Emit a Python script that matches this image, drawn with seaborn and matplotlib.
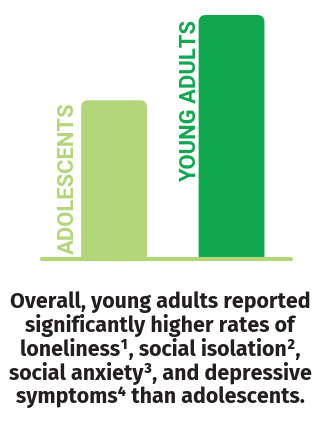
import matplotlib
matplotlib.use("Agg")
import matplotlib.pyplot as plt
import seaborn as sns
import pandas as pd
from matplotlib.patches import FancyBboxPatch

categories = ["ADOLESCENTS", "YOUNG ADULTS"]
values = [65, 100]
bar_colors = ["#b3d67a", "#10a84f"]
caption_lines = [
    "Overall, young adults reported",
    "significantly higher rates of",
    "loneliness¹, social isolation²,",
    "social anxiety³, and depressive",
    "symptoms⁴ than adolescents.",
]

sns.set_style("white")
plt.rcParams["font.family"] = ["Fira Sans", "DejaVu Sans"]

W, H = 320, 426
fig = plt.figure(figsize=(W / 100, H / 100), dpi=100)
# axes: x 40..293 px, y baseline 258.5 .. top 10 px
ax = fig.add_axes([40 / W, 1 - 258.5 / H, (293 - 40) / W, (258.5 - 10) / H])

df = pd.DataFrame({"cat": categories, "val": values})
sns.barplot(data=df, x="cat", y="val", hue="cat", palette=bar_colors,
            width=0.56, legend=False, ax=ax, saturation=1)

ax.set_ylim(0, 100 * (258.5 - 10) / (258.5 - 15))
ax.set_xlim(-0.63, 1.523)
ax.axis("off")

# convert rectangles to rounded-top bars
fig.canvas.draw()
px_per_x = ax.bbox.width / (ax.get_xlim()[1] - ax.get_xlim()[0])
px_per_y = ax.bbox.height / (ax.get_ylim()[1] - ax.get_ylim()[0])
r_px = 7
r_x = r_px / px_per_x
aspect = (r_px / px_per_y) / r_x
rects = list(ax.patches)
for rect in rects:
    x, y = rect.get_x(), rect.get_y()
    w, h = rect.get_width(), rect.get_height()
    col = rect.get_facecolor()
    rect.remove()
    ext = r_px / px_per_y * 2
    p = FancyBboxPatch((x, y - ext), w, h + ext,
                       boxstyle=f"round,pad=0,rounding_size={r_x}",
                       mutation_aspect=aspect, facecolor=col, edgecolor="none",
                       clip_on=True)
    ax.add_patch(p)

# baseline
ax.plot([-0.63 + 0.02, 1.523 - 0.02], [0, 0], color="#b3d67a", lw=3,
        solid_capstyle="round", clip_on=False, zorder=5)

# rotated category labels, top-aligned just under each bar's top
label_x = [-0.295, 0.737]
label_drop_px = [2, 5]
for i, (cat, v) in enumerate(zip(categories, values)):
    ax.text(label_x[i], v - label_drop_px[i] / px_per_y, cat, rotation=90,
            ha="right", va="top",
            color=bar_colors[i], fontsize=15.8, fontweight="bold",
            family=["Roboto", "DejaVu Sans"],
            clip_on=False)

# caption
y0 = 302
for i, line in enumerate(caption_lines):
    fig.text(0.5, 1 - (y0 + i * 23.8) / H, line, ha="center", va="center",
             fontsize=15.4, fontweight="bold", color="#231f20")

fig.savefig("out.png", dpi=100)
